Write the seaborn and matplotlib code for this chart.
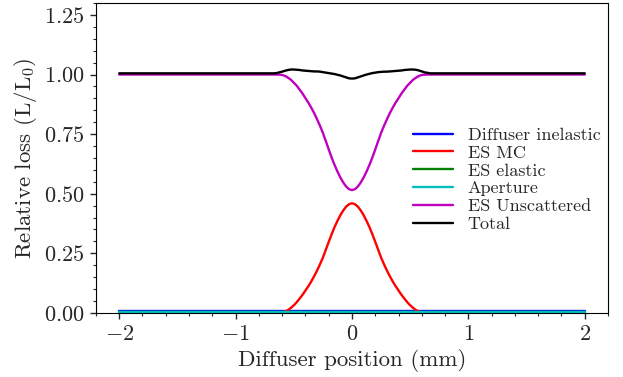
import numpy as np
import pandas as pd
import matplotlib
matplotlib.use('Agg')
import matplotlib.pyplot as plt
import seaborn as sns
from matplotlib.ticker import AutoMinorLocator, MultipleLocator

# Diffuser position (mm)
pos = [-2.0,
       -0.7, -0.675, -0.65, -0.625, -0.6, -0.575, -0.55, -0.525, -0.5, -0.475,
       -0.45, -0.425, -0.4, -0.375, -0.35, -0.325, -0.3, -0.275, -0.25, -0.225,
       -0.2, -0.175, -0.15, -0.125, -0.1, -0.075, -0.05, -0.025, 0.0,
       0.025, 0.05, 0.075, 0.1, 0.125, 0.15, 0.175, 0.2, 0.225, 0.25,
       0.275, 0.3, 0.325, 0.35, 0.375, 0.4, 0.425, 0.45, 0.475, 0.5,
       0.525, 0.55, 0.575, 0.6, 0.625, 0.65, 0.675, 0.7,
       2.0]

diffuser_inelastic = [0.007] * len(pos)
es_elastic = [0.003] * len(pos)
aperture = [0.005] * len(pos)

es_mc = [0.0,
         0.0, 0.0, 0.0, 0.0005, 0.002, 0.006, 0.012, 0.021, 0.032, 0.045,
         0.060, 0.076, 0.094, 0.112, 0.132, 0.154, 0.178, 0.204, 0.232, 0.265,
         0.298, 0.330, 0.360, 0.386, 0.410, 0.430, 0.446, 0.456, 0.460,
         0.456, 0.446, 0.430, 0.410, 0.386, 0.360, 0.330, 0.298, 0.265, 0.232,
         0.204, 0.178, 0.154, 0.132, 0.112, 0.094, 0.076, 0.060, 0.045, 0.032,
         0.021, 0.012, 0.006, 0.002, 0.0005, 0.0, 0.0, 0.0,
         0.0]

es_unscattered = [1.0,
                  1.0, 1.0, 1.0, 0.9995, 0.998, 0.994, 0.987, 0.978, 0.966, 0.953,
                  0.937, 0.920, 0.901, 0.882, 0.861, 0.838, 0.812, 0.785, 0.755, 0.721,
                  0.686, 0.652, 0.621, 0.593, 0.568, 0.547, 0.530, 0.519, 0.515,
                  0.519, 0.530, 0.547, 0.568, 0.593, 0.621, 0.652, 0.686, 0.721, 0.755,
                  0.785, 0.812, 0.838, 0.861, 0.882, 0.901, 0.920, 0.937, 0.953, 0.966,
                  0.978, 0.987, 0.994, 0.998, 0.9995, 1.0, 1.0, 1.0,
                  1.0]

total = [1.005,
         1.005, 1.005, 1.006, 1.009, 1.012, 1.016, 1.019, 1.021, 1.021, 1.020,
         1.019, 1.017, 1.016, 1.015, 1.014, 1.013, 1.013, 1.012, 1.010, 1.008,
         1.006, 1.004, 1.002, 0.999, 0.996, 0.992, 0.988, 0.984, 0.983,
         0.984, 0.988, 0.992, 0.996, 1.000, 1.003, 1.006, 1.008, 1.010, 1.011,
         1.012, 1.012, 1.013, 1.014, 1.015, 1.016, 1.017, 1.019, 1.020, 1.021,
         1.021, 1.020, 1.017, 1.013, 1.009, 1.007, 1.005, 1.005,
         1.005]

series = {
    'Diffuser inelastic': diffuser_inelastic,
    'ES MC': es_mc,
    'ES elastic': es_elastic,
    'Aperture': aperture,
    'ES Unscattered': es_unscattered,
    'Total': total,
}
colors = ['b', 'r', 'g', 'c', 'm', 'k']

df = pd.DataFrame({'pos': pos, **series}).melt(id_vars='pos', var_name='Component', value_name='loss')

sns.set_style('ticks')
plt.rcParams['font.family'] = ['cmr10']
plt.rcParams['mathtext.fontset'] = 'cm'
plt.rcParams['axes.formatter.use_mathtext'] = True
plt.rcParams['axes.unicode_minus'] = True

fig, ax = plt.subplots(figsize=(6.23, 3.77), dpi=100)
fig.subplots_adjust(left=0.154, right=0.976, top=0.992, bottom=0.170)

sns.lineplot(ax=ax, data=df, x='pos', y='loss', hue='Component',
             palette=colors, linewidth=1.7, sort=False)

ax.set_ylim(0, 1.3)
ax.set_xlabel('Diffuser position (mm)', fontsize=16.5)
ax.set_ylabel(r'Relative loss (L/L$_0$)', fontsize=16.5)
ax.yaxis.set_major_locator(MultipleLocator(0.25))
ax.xaxis.set_minor_locator(AutoMinorLocator())
ax.yaxis.set_minor_locator(AutoMinorLocator())
ax.tick_params(axis='both', which='major', labelsize=16, direction='out', length=4.5, width=1)
ax.tick_params(axis='both', which='minor', direction='out', length=2.5, width=0.8)
for s in ax.spines.values():
    s.set_visible(True)
    s.set_color('black')

ax.legend(frameon=False, fontsize=13, loc='center right', bbox_to_anchor=(1.017, 0.43),
          labelspacing=0.12, handlelength=2.2)

fig.savefig('out.png', dpi=100)
